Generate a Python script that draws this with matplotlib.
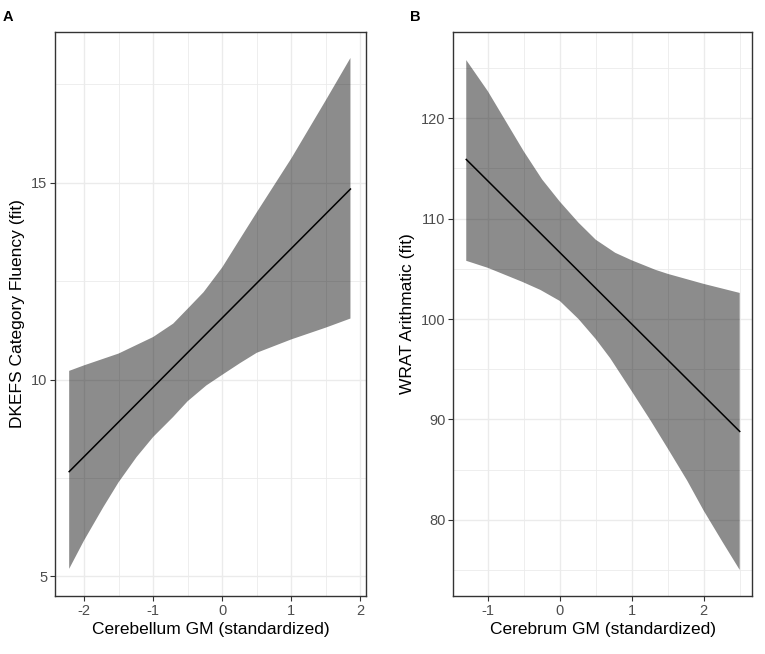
import matplotlib
matplotlib.use("Agg")
import matplotlib.pyplot as plt
from matplotlib.ticker import MultipleLocator

plt.rcParams['font.family'] = ['Liberation Sans', 'DejaVu Sans']
plt.rcParams['axes.unicode_minus'] = False

# ---- Panel A data (Cerebellum GM vs DKEFS Category Fluency) ----
a_line_x = [-2.215, 1.855]
a_line_y = [7.66, 14.84]
a_upper_x = [-2.215, -2.0, -1.5, -1.0, -0.71, -0.5, -0.27, 0.0, 0.26, 0.5, 1.0, 1.5, 1.855]
a_upper_y = [10.22, 10.36, 10.66, 11.08, 11.42, 11.80, 12.22, 12.85, 13.58, 14.25, 15.62, 17.10, 18.17]
a_lower_x = [-2.215, -2.0, -1.72, -1.5, -1.24, -1.0, -0.71, -0.5, -0.23, 0.0, 0.26, 0.5, 1.0, 1.5, 1.855]
a_lower_y = [5.19, 5.91, 6.76, 7.39, 8.03, 8.54, 9.05, 9.45, 9.85, 10.12, 10.42, 10.68, 11.02, 11.32, 11.55]
a_xticks = [-2, -1, 0, 1, 2]
a_yticks = [5, 10, 15]

# ---- Panel B data (Cerebrum GM vs WRAT Arithmatic) ----
b_line_x = [-1.30, 2.50]
b_line_y = [115.9, 88.8]
b_upper_x = [-1.30, -1.0, -0.75, -0.5, -0.245, 0.0, 0.26, 0.5, 0.77, 1.0, 1.33, 1.5, 2.0, 2.5]
b_upper_y = [125.8, 122.7, 119.7, 116.7, 113.9, 111.7, 109.6, 107.9, 106.6, 105.85, 104.9, 104.5, 103.5, 102.6]
b_lower_x = [-1.30, -1.0, -0.52, -0.27, 0.0, 0.26, 0.5, 0.70, 1.0, 1.26, 1.5, 1.77, 2.0, 2.26, 2.5]
b_lower_y = [105.8, 105.1, 103.7, 102.9, 101.8, 100.0, 98.0, 96.1, 92.8, 89.9, 87.1, 83.9, 80.9, 77.8, 75.0]
b_xticks = [-1, 0, 1, 2]
b_yticks = [80, 90, 100, 110, 120]

W, H = 765, 654
fig = plt.figure(figsize=(W / 100, H / 100), dpi=100)

def style(ax, xlim, ylim, xticks, yticks, xminor, yminor):
    ax.set_xlim(*xlim)
    ax.set_ylim(*ylim)
    ax.set_xticks(xticks)
    ax.set_yticks(yticks)
    ax.xaxis.set_minor_locator(MultipleLocator(xminor))
    ax.yaxis.set_minor_locator(MultipleLocator(yminor))
    ax.grid(True, which='major', color='#EBEBEB', linewidth=1.0, zorder=0)
    ax.grid(True, which='minor', color='#EBEBEB', linewidth=0.6, zorder=0)
    ax.set_axisbelow(True)
    for s in ax.spines.values():
        s.set_color('#333333')
        s.set_linewidth(1.0)
    ax.tick_params(which='major', length=3.5, width=0.8, color='#333333',
                   labelsize=10.5, labelcolor='#4D4D4D', pad=2)
    ax.tick_params(which='minor', length=0)

def draw(ax, ux, uy, lx, ly, linex, liney):
    px = list(ux) + list(lx)[::-1]
    py = list(uy) + list(ly)[::-1]
    ax.fill(px, py, facecolor='black', alpha=0.45, edgecolor='none', zorder=2)
    ax.plot(linex, liney, color='black', linewidth=1.1, zorder=3)

# Panel A
axA = fig.add_axes([55 / W, 1 - 596 / H, (366 - 55) / W, (596 - 32) / H])
style(axA, (-2.42, 2.08), (4.5, 18.83), a_xticks, a_yticks, 0.5, 2.5)
draw(axA, a_upper_x, a_upper_y, a_lower_x, a_lower_y, a_line_x, a_line_y)
axA.set_xlabel('Cerebellum GM (standardized)', fontsize=12.5, labelpad=3)
axA.set_ylabel('DKEFS Category Fluency (fit)', fontsize=12.5, labelpad=4)

# Panel B
axB = fig.add_axes([453.3 / W, 1 - 596 / H, (752.3 - 453.3) / W, (596 - 32) / H])
style(axB, (-1.48, 2.675), (72.4, 128.6), b_xticks, b_yticks, 0.5, 5)
draw(axB, b_upper_x, b_upper_y, b_lower_x, b_lower_y, b_line_x, b_line_y)
axB.set_xlabel('Cerebrum GM (standardized)', fontsize=12.5, labelpad=3)
axB.set_ylabel('WRAT Arithmatic (fit)', fontsize=12.5, labelpad=4)

fig.text(3 / W, 1 - 21 / H, 'A', fontsize=10.5, fontweight='bold', ha='left', va='baseline')
fig.text(410 / W, 1 - 21 / H, 'B', fontsize=10.5, fontweight='bold', ha='left', va='baseline')

fig.savefig('out.png', dpi=100)
